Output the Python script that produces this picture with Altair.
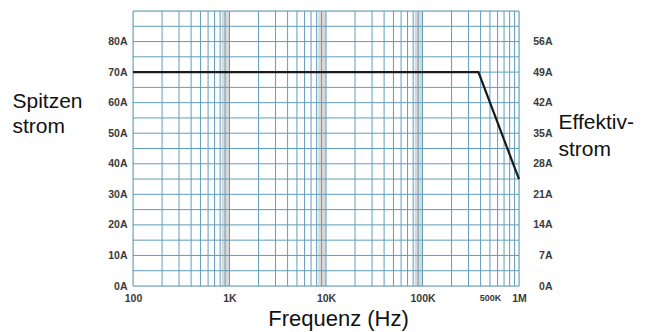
import altair as alt
import pandas as pd

# data
freq_pts = [100, 380000, 1000000]
current_pts = [70, 70, 35]

x_label_vals = [100, 1000, 10000, 100000, 500000, 1000000]
y_label_vals = [0, 10, 20, 30, 40, 50, 60, 70, 80]
y_grid_vals = [0, 5, 10, 15, 20, 25, 30, 35, 40, 45, 50, 55, 60, 65, 70, 75, 80, 85, 90]
decades = [100, 1000, 10000, 100000]
multipliers = [1, 2, 3, 4, 5, 6, 7, 8, 9]
band_starts = [830, 8300, 83000]
band_ends = [1000, 10000, 100000]
rms_ratio = 0.7

W, H = 386, 275
GRID = "#5f9dbb"

vgrid = pd.DataFrame({"f": [d * m for d in decades for m in multipliers] + [1000000]})
hgrid = pd.DataFrame({"a": y_grid_vals})
bands = pd.DataFrame({"f1": band_starts, "f2": band_ends})
line_df = pd.DataFrame({"f": freq_pts, "a": current_pts})

xscale = alt.Scale(type="log", domain=[100, 1000000], nice=False)
yscale = alt.Scale(domain=[0, 90], nice=False)

label_expr = ("datum.value == 100 ? '100' : datum.value == 1000 ? '1K' : "
              "datum.value == 10000 ? '10K' : datum.value == 100000 ? '100K' : "
              "datum.value == 500000 ? '500K' : datum.value == 1000000 ? '1M' : ''")

xaxis = alt.Axis(values=x_label_vals, labelExpr=label_expr, grid=False, ticks=False,
                 domain=False, labelFont="Liberation Sans", labelFontWeight="bold",
                 labelFontSize={"condition": {"test": "datum.value == 500000", "value": 9}, "value": 10.5},
                 labelColor="#3a3a3a", labelPadding=7, labelFlush=False,
                 title="Frequenz (Hz)", titleFont="Liberation Sans", titleFontSize=22,
                 titleFontWeight="normal", titleColor="#111111", titleX=205, titleY=39,
                 titleBaseline="alphabetic", titleAlign="center")

band_layer = alt.Chart(bands).mark_rect(color="#d9d9d9").encode(
    x=alt.X("f1:Q", scale=xscale, axis=xaxis),
    x2="f2:Q",
    y=alt.value(0),
    y2=alt.value(H),
)

vrule = alt.Chart(vgrid).mark_rule(color=GRID, strokeWidth=1).encode(
    x=alt.X("f:Q", scale=xscale, axis=xaxis)
)

hrule = alt.Chart(hgrid).mark_rule(color=GRID, strokeWidth=1).encode(
    y=alt.Y("a:Q", scale=yscale,
            axis=alt.Axis(orient="right", values=y_label_vals,
                          labelExpr=f"round(datum.value * {rms_ratio}) + 'A'",
                          grid=False, ticks=False, domain=False,
                          labelFont="Liberation Sans", labelFontWeight="bold",
                          labelFontSize=10.5, labelColor="#3a3a3a",
                          labelAlign="right", labelPadding=33,
                          title=["Effektiv-", "strom"], titleFont="Liberation Sans",
                          titleFontSize=21, titleFontWeight="normal", titleColor="#111111",
                          titleAngle=0, titleAlign="left", titleBaseline="alphabetic",
                          titleX=39, titleY=117, titleLineHeight=27))
)

line = alt.Chart(line_df).mark_line(color="#1a1a1a", strokeWidth=2.2).encode(
    x=alt.X("f:Q", scale=xscale, axis=xaxis),
    y=alt.Y("a:Q", scale=yscale,
            axis=alt.Axis(orient="left", values=y_label_vals,
                          labelExpr="datum.value + 'A'",
                          grid=False, ticks=False, domain=False,
                          labelFont="Liberation Sans", labelFontWeight="bold",
                          labelFontSize=10.5, labelColor="#3a3a3a", labelPadding=6,
                          title=["Spitzen", "strom"], titleFont="Liberation Sans",
                          titleFontSize=21, titleFontWeight="normal", titleColor="#111111",
                          titleAngle=0, titleAlign="left", titleBaseline="alphabetic",
                          titleX=-121, titleY=96, titleLineHeight=25)),
)

chart = alt.layer(band_layer, vrule, hrule, line).resolve_scale(y="independent").properties(
    width=W, height=H,
    autosize=alt.AutoSizeParams(type="none"),
    padding={"left": 125, "top": 3, "right": 118, "bottom": 46},
).configure_view(stroke=None).configure(background="white")

chart.save("out.html", embed_options={"renderer": "svg", "actions": False})
